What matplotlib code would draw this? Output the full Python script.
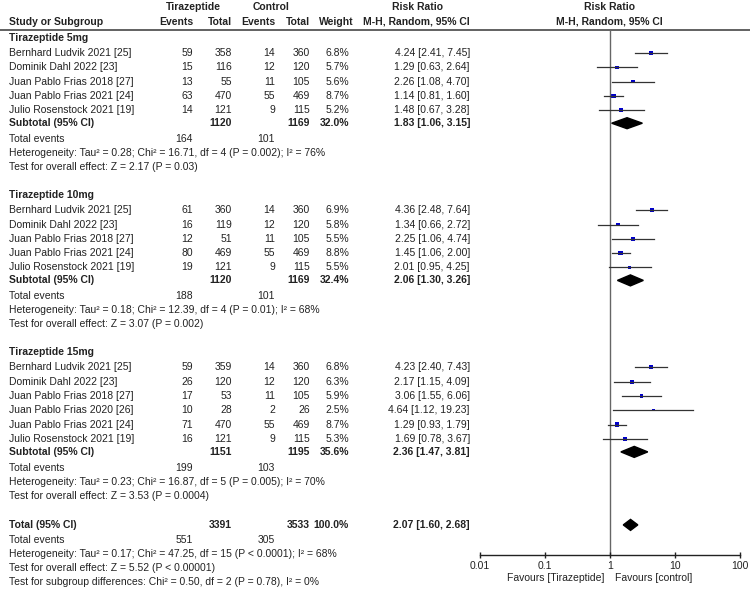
import numpy as np
import matplotlib
matplotlib.use("Agg")
import matplotlib.pyplot as plt
from matplotlib.patches import Polygon, Rectangle

plt.rcParams['font.family'] = ['Liberation Sans', 'DejaVu Sans']

# ---- data ----
groups = ['Tirazeptide 5mg', 'Tirazeptide 10mg', 'Tirazeptide 15mg']

studies_5 = ['Bernhard Ludvik 2021 [25]', 'Dominik Dahl 2022 [23]', 'Juan Pablo Frias 2018 [27]',
             'Juan Pablo Frias 2021 [24]', 'Julio Rosenstock 2021 [19]']
ev_t_5 = [59, 15, 13, 63, 14]
n_t_5 = [358, 116, 55, 470, 121]
ev_c_5 = [14, 12, 11, 55, 9]
n_c_5 = [360, 120, 105, 469, 115]
w_5 = [6.8, 5.7, 5.6, 8.7, 5.2]
rr_5 = [4.24, 1.29, 2.26, 1.14, 1.48]
lo_5 = [2.41, 0.63, 1.08, 0.81, 0.67]
hi_5 = [7.45, 2.64, 4.70, 1.60, 3.28]

studies_10 = ['Bernhard Ludvik 2021 [25]', 'Dominik Dahl 2022 [23]', 'Juan Pablo Frias 2018 [27]',
              'Juan Pablo Frias 2021 [24]', 'Julio Rosenstock 2021 [19]']
ev_t_10 = [61, 16, 12, 80, 19]
n_t_10 = [360, 119, 51, 469, 121]
ev_c_10 = [14, 12, 11, 55, 9]
n_c_10 = [360, 120, 105, 469, 115]
w_10 = [6.9, 5.8, 5.5, 8.8, 5.5]
rr_10 = [4.36, 1.34, 2.25, 1.45, 2.01]
lo_10 = [2.48, 0.66, 1.06, 1.06, 0.95]
hi_10 = [7.64, 2.72, 4.74, 2.00, 4.25]

studies_15 = ['Bernhard Ludvik 2021 [25]', 'Dominik Dahl 2022 [23]', 'Juan Pablo Frias 2018 [27]',
              'Juan Pablo Frias 2020 [26]', 'Juan Pablo Frias 2021 [24]', 'Julio Rosenstock 2021 [19]']
ev_t_15 = [59, 26, 17, 10, 71, 16]
n_t_15 = [359, 120, 53, 28, 470, 121]
ev_c_15 = [14, 12, 11, 2, 55, 9]
n_c_15 = [360, 120, 105, 26, 469, 115]
w_15 = [6.8, 6.3, 5.9, 2.5, 8.7, 5.3]
rr_15 = [4.23, 2.17, 3.06, 4.64, 1.29, 1.69]
lo_15 = [2.40, 1.15, 1.55, 1.12, 0.93, 0.78]
hi_15 = [7.43, 4.09, 6.06, 19.23, 1.79, 3.67]

sub_nt = [1120, 1120, 1151]
sub_nc = [1169, 1169, 1195]
sub_w = [32.0, 32.4, 35.6]
sub_rr = [1.83, 2.06, 2.36]
sub_lo = [1.06, 1.30, 1.47]
sub_hi = [3.15, 3.26, 3.81]
sub_ev_t = [164, 188, 199]
sub_ev_c = [101, 101, 103]
sub_het = ['Heterogeneity: Tau² = 0.28; Chi² = 16.71, df = 4 (P = 0.002); I² = 76%',
           'Heterogeneity: Tau² = 0.18; Chi² = 12.39, df = 4 (P = 0.01); I² = 68%',
           'Heterogeneity: Tau² = 0.23; Chi² = 16.87, df = 5 (P = 0.005); I² = 70%']
sub_z = ['Test for overall effect: Z = 2.17 (P = 0.03)',
         'Test for overall effect: Z = 3.07 (P = 0.002)',
         'Test for overall effect: Z = 3.53 (P = 0.0004)']

tot_nt, tot_nc, tot_w = 3391, 3533, 100.0
tot_rr, tot_lo, tot_hi = 2.07, 1.60, 2.68
tot_ev_t, tot_ev_c = 551, 305
tot_het = 'Heterogeneity: Tau² = 0.17; Chi² = 47.25, df = 15 (P < 0.0001); I² = 68%'
tot_z = 'Test for overall effect: Z = 5.52 (P < 0.00001)'
tot_sub = 'Test for subgroup differences: Chi² = 0.50, df = 2 (P = 0.78), I² = 0%'

ticks = [0.01, 0.1, 1, 10, 100]
tick_labels = ['0.01', '0.1', '1', '10', '100']

all_groups = [
    (studies_5, ev_t_5, n_t_5, ev_c_5, n_c_5, w_5, rr_5, lo_5, hi_5),
    (studies_10, ev_t_10, n_t_10, ev_c_10, n_c_10, w_10, rr_10, lo_10, hi_10),
    (studies_15, ev_t_15, n_t_15, ev_c_15, n_c_15, w_15, rr_15, lo_15, hi_15),
]

# ---- layout (pixel coords) ----
W, H = 750, 591
fig = plt.figure(figsize=(7.5, 5.91), dpi=100)
ax = fig.add_axes([0, 0, 1, 1])
ax.set_xlim(0, W)
ax.set_ylim(H, 0)
ax.axis('off')

fx = fig.add_axes([480 / W, 0, 260 / W, 1])
fx.set_xscale('log')
fx.set_xlim(0.01, 100)
fx.set_ylim(H, 0)
fx.axis('off')

fs = 7.5
tc = '#222222'
x_name = 9
x_evt, x_nt, x_evc, x_nc, x_w, x_rr = 193, 232, 275, 310, 349, 470


def txt(x, y, s, ha='left', bold=False):
    ax.text(x, y, s, ha=ha, va='center', fontsize=fs, color=tc,
            fontweight='bold' if bold else 'normal')


def to_px(xv, yv):
    # forest (log) coords -> pixel coords of the text axes
    disp = fx.transData.transform((xv, yv))
    return ax.transData.inverted().transform(disp)


# header
txt(193, 7, 'Tirazeptide', ha='center', bold=True)
txt(271, 7, 'Control', ha='center', bold=True)
txt(418, 7, 'Risk Ratio', ha='center', bold=True)
txt(609, 7, 'Risk Ratio', ha='center', bold=True)
txt(x_name, 22, 'Study or Subgroup', bold=True)
txt(x_evt, 22, 'Events', ha='right', bold=True)
txt(x_nt, 22, 'Total', ha='right', bold=True)
txt(x_evc, 22, 'Events', ha='right', bold=True)
txt(x_nc, 22, 'Total', ha='right', bold=True)
txt(354, 22, 'Weight', ha='right', bold=True)
txt(x_rr, 22, 'M-H, Random, 95% CI', ha='right', bold=True)
txt(609, 22, 'M-H, Random, 95% CI', ha='center', bold=True)
ax.plot([0, W], [29.5, 29.5], color='#555555', lw=1.3)


def diamond(y, rr, lo, hi, h=5.5):
    fx.add_patch(Polygon([(lo, y), (rr, y - h), (hi, y), (rr, y + h)],
                         closed=True, color='black', zorder=4))


y = 38
for gi, g in enumerate(all_groups):
    names, et, nt, ec, nc, w, rr, lo, hi = g
    txt(x_name, y, groups[gi], bold=True)
    y += 15
    for i in range(len(names)):
        txt(x_name, y, names[i])
        txt(x_evt, y, str(et[i]), ha='right')
        txt(x_nt, y, str(nt[i]), ha='right')
        txt(x_evc, y, str(ec[i]), ha='right')
        txt(x_nc, y, str(nc[i]), ha='right')
        txt(x_w, y, f'{w[i]:.1f}%', ha='right')
        txt(x_rr, y, f'{rr[i]:.2f} [{lo[i]:.2f}, {hi[i]:.2f}]', ha='right')
        fx.plot([lo[i], hi[i]], [y, y], color='#333333', lw=0.9, zorder=2)
        px, py = to_px(rr[i], y)
        side = 1.5 * np.sqrt(w[i])
        ax.add_patch(Rectangle((px - side / 2, py - side / 2), side, side,
                               facecolor='#0000cc', edgecolor='none', zorder=5))
        y += 14.3
    y -= 1.3
    txt(x_name, y, 'Subtotal (95% CI)', bold=True)
    txt(x_nt, y, str(sub_nt[gi]), ha='right', bold=True)
    txt(x_nc, y, str(sub_nc[gi]), ha='right', bold=True)
    txt(x_w, y, f'{sub_w[gi]:.1f}%', ha='right', bold=True)
    txt(x_rr, y, f'{sub_rr[gi]:.2f} [{sub_lo[gi]:.2f}, {sub_hi[gi]:.2f}]', ha='right', bold=True)
    diamond(y, sub_rr[gi], sub_lo[gi], sub_hi[gi])
    y += 16
    txt(x_name, y, 'Total events')
    txt(x_evt, y, str(sub_ev_t[gi]), ha='right')
    txt(x_evc, y, str(sub_ev_c[gi]), ha='right')
    y += 14
    txt(x_name, y, sub_het[gi])
    y += 14
    txt(x_name, y, sub_z[gi])
    y += 28

y = y + 1
txt(x_name, y, 'Total (95% CI)', bold=True)
txt(x_nt, y, str(tot_nt), ha='right', bold=True)
txt(x_nc, y, str(tot_nc), ha='right', bold=True)
txt(x_w, y, f'{tot_w:.1f}%', ha='right', bold=True)
txt(x_rr, y, f'{tot_rr:.2f} [{tot_lo:.2f}, {tot_hi:.2f}]', ha='right', bold=True)
diamond(y, tot_rr, tot_lo, tot_hi)
y += 15
txt(x_name, y, 'Total events')
txt(x_evt, y, str(tot_ev_t), ha='right')
txt(x_evc, y, str(tot_ev_c), ha='right')
y += 14
txt(x_name, y, tot_het)
y += 14
txt(x_name, y, tot_z)
y += 14.5
txt(x_name, y, tot_sub)

# forest axis
y_ax = 555
fx.plot([1, 1], [29.5, y_ax], color='#666666', lw=1, zorder=1, clip_on=False)
fx.plot([0.01, 100], [y_ax, y_ax], color='#222222', lw=1, clip_on=False)
fx.vlines(ticks, y_ax - 3, y_ax + 3, color='#222222', lw=1, clip_on=False)
for t, lab in zip(ticks, tick_labels):
    fx.text(t, 566, lab, ha='center', va='center', fontsize=fs, color=tc, clip_on=False)
fx.text(0.83, 578, 'Favours [Tirazeptide]', ha='right', va='center', fontsize=fs, color=tc)
fx.text(1.2, 578, 'Favours [control]', ha='left', va='center', fontsize=fs, color=tc)

fig.savefig('out.png', dpi=100)
